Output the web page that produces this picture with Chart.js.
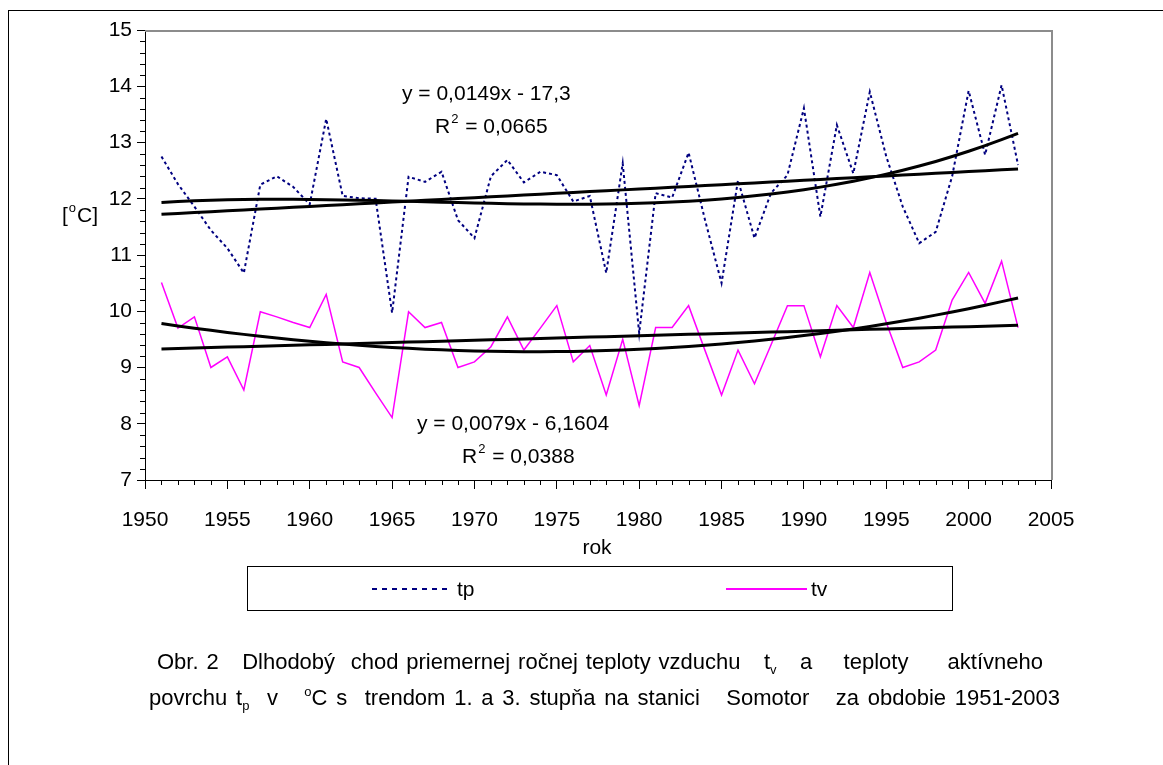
<!DOCTYPE html>
<html>
<head>
<meta charset="utf-8">
<script src="https://cdn.jsdelivr.net/npm/chart.js@4.4.0/dist/chart.umd.min.js"></script>
<style>
html, body { margin: 0; padding: 0; background: #fff; }
#wrap { position: relative; width: 1163px; height: 765px; overflow: hidden; }
#frame { position: absolute; left: 8px; top: 10px; width: 1300px; height: 900px; border: 1px solid #000; }
#chart { position: absolute; left: 0; top: 0; }
.cap { position: absolute; font-family: "Liberation Sans", Arial, sans-serif; font-size: 22px; color: #000;
       white-space: pre-wrap; text-align: justify; text-align-last: justify; }
.cap sub { font-size: 13px; vertical-align: -5px; line-height: 0; }
.cap sup { font-size: 13px; vertical-align: 9px; line-height: 0; }
</style>
</head>
<body>
<div id="wrap">
  <div id="frame"></div>
  <canvas id="chart" width="1163" height="765"></canvas>
  <div class="cap" style="left:157px; top:649px; width:886px;">Obr. 2   Dlhodobý  chod priemernej ročnej teploty vzduchu   t<sub>v</sub>   a    teploty     aktívneho</div>
  <div class="cap" style="left:149px; top:685px; width:911px;">povrchu t<sub>p</sub>  v   <sup>o</sup>C s  trendom 1. a 3. stupňa na stanici   Somotor   za obdobie 1951-2003</div>
</div>
<script>
const FONT = '"Liberation Sans", Arial, sans-serif';

// roky 1951-2003
const years = [1951, 1952, 1953, 1954, 1955, 1956, 1957, 1958, 1959, 1960,
               1961, 1962, 1963, 1964, 1965, 1966, 1967, 1968, 1969, 1970,
               1971, 1972, 1973, 1974, 1975, 1976, 1977, 1978, 1979, 1980,
               1981, 1982, 1983, 1984, 1985, 1986, 1987, 1988, 1989, 1990,
               1991, 1992, 1993, 1994, 1995, 1996, 1997, 1998, 1999, 2000,
               2001, 2002, 2003];

// teplota aktivneho povrchu
const tp = [12.75, 12.26, 11.86, 11.44, 11.12, 10.68, 12.25, 12.40, 12.21, 11.90,
            13.42, 12.05, 12.01, 12.00, 9.97, 12.39, 12.30, 12.48, 11.62, 11.30,
            12.40, 12.69, 12.29, 12.48, 12.42, 11.95, 12.05, 10.68, 12.63, 9.61,
            12.10, 12.02, 12.82, 11.62, 10.50, 12.33, 11.30, 12.10, 12.42, 13.61,
            11.68, 13.31, 12.45, 13.90, 12.75, 11.86, 11.21, 11.41, 12.40, 13.92,
            12.78, 14.02, 12.60];

// teplota vzduchu
const tv = [10.51, 9.70, 9.90, 9.00, 9.19, 8.60, 9.99, 9.90, 9.80, 9.71,
            10.30, 9.10, 9.00, 8.55, 8.11, 9.99, 9.71, 9.80, 9.00, 9.10,
            9.37, 9.90, 9.31, 9.70, 10.10, 9.10, 9.39, 8.51, 9.50, 8.32,
            9.71, 9.71, 10.10, 9.30, 8.51, 9.31, 8.71, 9.40, 10.10, 10.10,
            9.19, 10.10, 9.71, 10.69, 9.80, 9.00, 9.10, 9.31, 10.20, 10.69,
            10.14, 10.89, 9.71];

const xTicks = [1950, 1955, 1960, 1965, 1970, 1975, 1980, 1985, 1990, 1995, 2000, 2005];
const yTicks = [7, 8, 9, 10, 11, 12, 13, 14, 15];

// trend (least squares) ako v Exceli
function polyFit(xs, ys, deg) {
    const n = deg + 1;
    const A = [], b = [];
    for (let i = 0; i < n; i++) { A.push(new Array(n).fill(0)); b.push(0); }
    xs.forEach((x, k) => {
        const t = (x - 1977) / 26;
        for (let i = 0; i < n; i++) {
            for (let j = 0; j < n; j++) A[i][j] += Math.pow(t, i + j);
            b[i] += ys[k] * Math.pow(t, i);
        }
    });
    for (let i = 0; i < n; i++) {
        for (let r = i + 1; r < n; r++) {
            const f = A[r][i] / A[i][i];
            for (let c = i; c < n; c++) A[r][c] -= f * A[i][c];
            b[r] -= f * b[i];
        }
    }
    const c = new Array(n).fill(0);
    for (let i = n - 1; i >= 0; i--) {
        let s = b[i];
        for (let j = i + 1; j < n; j++) s -= A[i][j] * c[j];
        c[i] = s / A[i][i];
    }
    return years.map(x => ({ x: x, y: c.reduce((acc, ci, i) => acc + ci * Math.pow((x - 1977) / 26, i), 0) }));
}

function points(vals) {
    return years.map((x, i) => ({ x: x, y: vals[i] }));
}

const trendStyle = { borderColor: '#000', borderWidth: 3, pointRadius: 0, order: 0, fill: false };

const decor = {
    id: 'decor',
    afterDraw(chart) {
        const ctx = chart.ctx;
        const a = chart.chartArea;
        const xs = chart.scales.x, ys = chart.scales.y;
        ctx.save();

        // okraj grafu
        ctx.strokeStyle = '#8c8c8c';
        ctx.lineWidth = 2;
        ctx.beginPath();
        ctx.moveTo(a.left, a.top + 1);
        ctx.lineTo(a.right + 1, a.top + 1);
        ctx.lineTo(a.right + 1, a.bottom);
        ctx.stroke();

        // vedlajsie dieliky
        ctx.strokeStyle = '#000';
        ctx.lineWidth = 1;
        ctx.beginPath();
        for (let yr = 1951; yr < 2005; yr++) {
            if (yr % 5 === 0) continue;
            const px = Math.round(xs.getPixelForValue(yr)) + 0.5;
            ctx.moveTo(px, a.bottom);
            ctx.lineTo(px, a.bottom + 5);
        }
        for (let v = 7.2; v < 15; v += 0.2) {
            if (Math.abs(v - Math.round(v)) < 0.01) continue;
            const py = Math.round(ys.getPixelForValue(v)) + 0.5;
            ctx.moveTo(a.left - 5, py);
            ctx.lineTo(a.left, py);
        }
        ctx.stroke();

        ctx.fillStyle = '#000';
        ctx.textBaseline = 'alphabetic';
        ctx.textAlign = 'left';

        function supText(x, y, base, sup, rest, size) {
            ctx.font = size + 'px ' + FONT;
            ctx.fillText(base, x, y);
            let w = ctx.measureText(base).width;
            ctx.font = '13px ' + FONT;
            ctx.fillText(sup, x + w + 1, y - 10);
            const w2 = ctx.measureText(sup).width;
            ctx.font = size + 'px ' + FONT;
            ctx.fillText(rest, x + w + w2 + 2, y);
        }

        // rovnice trendov
        ctx.font = '21px ' + FONT;
        ctx.fillText('y = 0,0149x - 17,3', 402, 100);
        supText(435, 133, 'R', '2', ' = 0,0665', 21);
        ctx.font = '21px ' + FONT;
        ctx.fillText('y = 0,0079x - 6,1604', 417, 430);
        supText(462, 463, 'R', '2', ' = 0,0388', 21);

        // popisy osi
        supText(62, 222, '[', 'o', 'C]', 21);
        ctx.font = '21px ' + FONT;
        ctx.textAlign = 'center';
        ctx.textBaseline = 'middle';
        ctx.fillText('rok', 597, 548);

        // legenda
        ctx.strokeStyle = '#000';
        ctx.lineWidth = 1;
        ctx.strokeRect(247.5, 566.5, 705, 44);
        ctx.lineWidth = 2;
        ctx.strokeStyle = '#000080';
        ctx.setLineDash([5, 5]);
        ctx.beginPath();
        ctx.moveTo(372, 589);
        ctx.lineTo(452, 589);
        ctx.stroke();
        ctx.setLineDash([]);
        ctx.strokeStyle = '#ff00ff';
        ctx.beginPath();
        ctx.moveTo(726, 589);
        ctx.lineTo(807, 589);
        ctx.stroke();
        ctx.textAlign = 'left';
        ctx.fillText('tp', 457, 590);
        ctx.fillText('tv', 811, 590);

        ctx.restore();
    }
};

new Chart(document.getElementById('chart').getContext('2d'), {
    type: 'line',
    data: {
        datasets: [
            { label: 'tp lin', data: polyFit(years, tp, 1), ...trendStyle },
            { label: 'tp pol', data: polyFit(years, tp, 3), ...trendStyle },
            { label: 'tv lin', data: polyFit(years, tv, 1), ...trendStyle },
            { label: 'tv pol', data: polyFit(years, tv, 3), ...trendStyle },
            { label: 'tp', data: points(tp), borderColor: '#000080', borderWidth: 2, borderDash: [3, 3],
              pointRadius: 0, order: 1, tension: 0, fill: false },
            { label: 'tv', data: points(tv), borderColor: '#ff00ff', borderWidth: 1.5,
              pointRadius: 0, order: 1, tension: 0, fill: false }
        ]
    },
    options: {
        responsive: false,
        animation: false,
        devicePixelRatio: 1,
        layout: { padding: { top: 30, right: 112, left: 0, bottom: 0 } },
        plugins: { legend: { display: false }, tooltip: { enabled: false } },
        scales: {
            x: {
                type: 'linear', min: 1950, max: 2005,
                afterBuildTicks: s => { s.ticks = xTicks.map(v => ({ value: v })); },
                afterFit: s => { s.height = 285; },
                grid: { drawOnChartArea: false, color: '#000', tickLength: 9 },
                border: { color: '#000', width: 1 },
                ticks: { color: '#000', font: { family: FONT, size: 21 }, padding: 19, maxRotation: 0,
                         callback: v => String(v) }
            },
            y: {
                type: 'linear', min: 7, max: 15,
                afterBuildTicks: s => { s.ticks = yTicks.map(v => ({ value: v })); },
                afterFit: s => { s.width = 145; },
                grid: { drawOnChartArea: false, color: '#000', tickLength: 8 },
                border: { color: '#000', width: 1 },
                ticks: { color: '#000', font: { family: FONT, size: 21 }, padding: 5 }
            }
        }
    },
    plugins: [decor]
});
</script>
</body>
</html>
